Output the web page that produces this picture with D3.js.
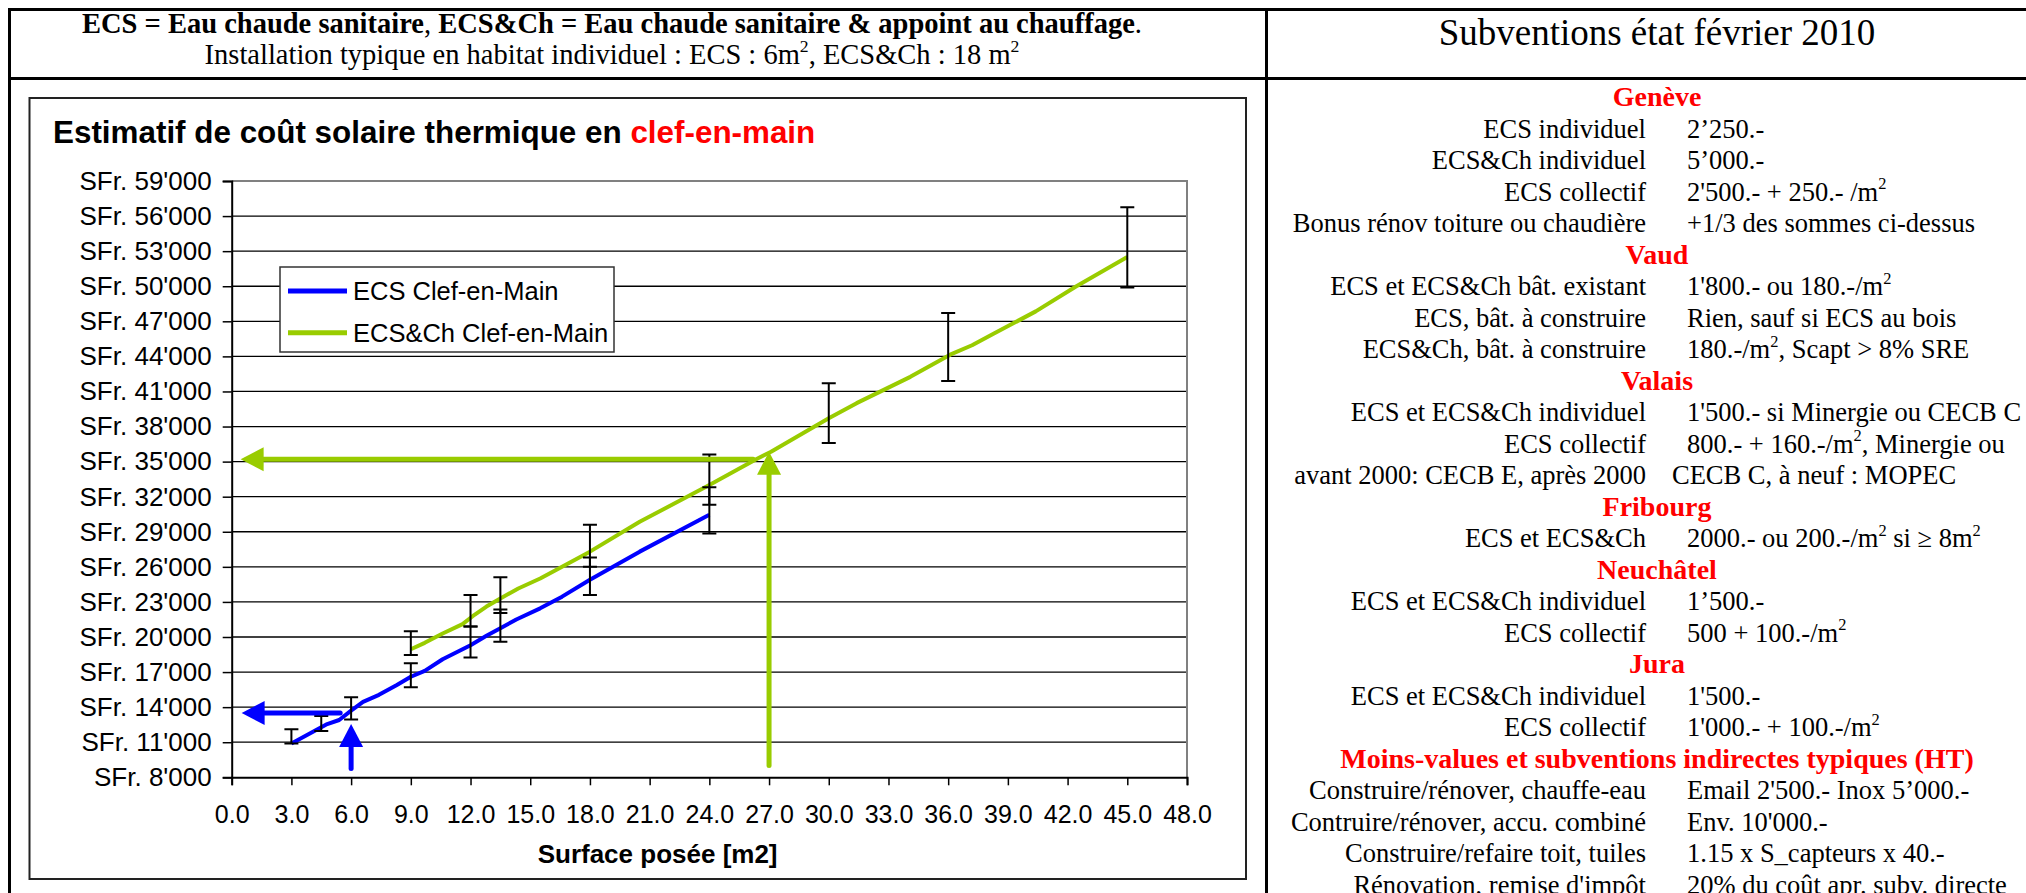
<!DOCTYPE html>
<html>
<head>
<meta charset="utf-8">
<script src="https://cdn.jsdelivr.net/npm/d3@7"></script>
<style>
  body { margin: 0; background: #fff; }
  svg { display: block; }
</style>
</head>
<body>
<svg id="page" width="2026" height="893"></svg>
<script>
// --- chart data ---
const surfaceTicks = d3.range(0, 49, 3);
const costTicks = d3.range(8000, 59001, 3000);

const ecsSurface = [3, 4.8, 5.4, 6, 6.6, 7.4, 8.3, 9, 9.7, 10.6, 12, 12.8, 13.5, 14.3, 15.5, 16.6, 18, 20.5, 24];
const ecsCost = [10900, 12550, 12900, 13700, 14450, 15050, 15900, 16600, 17100, 18100, 19300, 20100, 20750, 21500, 22450, 23450, 24900, 27300, 30450];

const chSurface = [9, 9.7, 10.6, 11.6, 12.2, 12.8, 13.5, 14.4, 15.5, 16.6, 18, 20.5, 24, 26.4, 27.1, 30, 31.4, 34.1, 36.1, 37.2, 38.3, 40.4, 42.4, 45];
const chCost = [18950, 19500, 20300, 21100, 21900, 22600, 23300, 24150, 25000, 26000, 27300, 29850, 33000, 35250, 35850, 38700, 40000, 42250, 44150, 44950, 45950, 47850, 49950, 52500];

const ecsErrSurface = [3, 4.5, 6, 9, 12, 13.5, 18, 24];
const ecsErrLow = [10900, 11950, 12950, 15700, 18250, 19600, 23600, 28850];
const ecsErrHigh = [12100, 13250, 14850, 17750, 20900, 22350, 26800, 32800];

const chErrSurface = [9, 12, 13.5, 18, 24, 30, 36, 45];
const chErrLow = [18450, 20900, 22050, 26000, 31300, 36600, 41900, 49900];
const chErrHigh = [20500, 23600, 25100, 29600, 35600, 41700, 47700, 56750];

// guide arrows: [fromSurface, fromCost, toSurface, toCost]
const ecsArrows = [[5.45, 13500, 0.5, 13500], [6, 8750, 6, 12550]];
const chArrows = [[26.2, 35200, 0.45, 35200], [27, 9000, 27, 35850]];

const seriesNames = ["ECS Clef-en-Main", "ECS&Ch Clef-en-Main"];
const blue = "#0000ff";
const green = "#99cc00";

// --- right hand table (subsidies) ---
const subsidyRows = [
  ["h", "Genève"],
  ["ECS individuel", "2’250.-"],
  ["ECS&Ch individuel", "5’000.-"],
  ["ECS collectif", "2'500.- + 250.- /m^2"],
  ["Bonus rénov toiture ou chaudière", "+1/3 des sommes ci-dessus"],
  ["h", "Vaud"],
  ["ECS et ECS&Ch bât. existant", "1'800.- ou 180.-/m^2"],
  ["ECS, bât. à construire", "Rien, sauf si ECS au bois"],
  ["ECS&Ch, bât. à construire", "180.-/m^2, Scapt > 8% SRE"],
  ["h", "Valais"],
  ["ECS et ECS&Ch individuel", "1'500.- si Minergie ou CECB C"],
  ["ECS collectif", "800.- + 160.-/m^2, Minergie ou"],
  ["avant 2000: CECB E, après 2000", "CECB C, à neuf : MOPEC"],
  ["h", "Fribourg"],
  ["ECS et ECS&Ch", "2000.- ou 200.-/m^2 si ≥ 8m^2"],
  ["h", "Neuchâtel"],
  ["ECS et ECS&Ch individuel", "1’500.-"],
  ["ECS collectif", "500 + 100.-/m^2"],
  ["h", "Jura"],
  ["ECS et ECS&Ch individuel", "1'500.-"],
  ["ECS collectif", "1'000.- + 100.-/m^2"],
  ["h", "Moins-values et subventions indirectes typiques (HT)"],
  ["Construire/rénover, chauffe-eau", "Email 2'500.- Inox 5’000.-"],
  ["Contruire/rénover, accu. combiné", "Env. 10'000.-"],
  ["Construire/refaire toit, tuiles", "1.15 x S_capteurs x 40.-"],
  ["Rénovation, remise d'impôt", "20% du coût apr. subv. directe"]
];

const serif = '"Liberation Serif", "Times New Roman", serif';
const sans = '"Liberation Sans", Arial, sans-serif';

const svg = d3.select("#page");

// text with "^2" superscripts
const rich = (sel, str, size) => {
  const parts = str.split("^2");
  parts.forEach((p, i) => {
    if (i > 0) {
      sel.append("tspan").attr("dy", -size * 0.42).attr("font-size", size * 0.62).text("2");
      if (p) sel.append("tspan").attr("dy", size * 0.42).text(p);
    } else if (p) {
      sel.append("tspan").text(p);
    }
  });
};

// --- page frame ---
const frame = svg.append("g").attr("stroke", "#000").attr("stroke-width", 3);
frame.append("line").attr("x1", 8).attr("x2", 2026).attr("y1", 9.5).attr("y2", 9.5);
frame.append("line").attr("x1", 8).attr("x2", 2026).attr("y1", 78.5).attr("y2", 78.5);
frame.append("line").attr("x1", 9.5).attr("x2", 9.5).attr("y1", 8).attr("y2", 893);
frame.append("line").attr("x1", 1266.5).attr("x2", 1266.5).attr("y1", 8).attr("y2", 893);

// header left
const h1 = svg.append("text").attr("x", 612).attr("y", 33).attr("text-anchor", "middle")
  .attr("font-family", serif).attr("font-size", 28.5);
h1.append("tspan").attr("font-weight", "bold").text("ECS = Eau chaude sanitaire");
h1.append("tspan").text(", ");
h1.append("tspan").attr("font-weight", "bold").text("ECS&Ch = Eau chaude sanitaire & appoint au chauffage");
h1.append("tspan").text(".");

const h2 = svg.append("text").attr("x", 612).attr("y", 64).attr("text-anchor", "middle")
  .attr("font-family", serif).attr("font-size", 28.5);
rich(h2, "Installation typique en habitat individuel : ECS : 6m^2, ECS&Ch : 18 m^2", 28.5);

// header right
svg.append("text").attr("x", 1657).attr("y", 45).attr("text-anchor", "middle")
  .attr("font-family", serif).attr("font-size", 37)
  .text("Subventions état février 2010");

// subsidy rows
const rowsG = svg.append("g").attr("font-family", serif).attr("font-size", 26.5);
subsidyRows.forEach((r, i) => {
  const by = 106 + 31.5 * i;
  if (r[0] === "h") {
    rowsG.append("text").attr("x", 1657).attr("y", by).attr("text-anchor", "middle")
      .attr("font-size", 28).attr("font-weight", "bold").attr("fill", "#ff0000").text(r[1]);
  } else {
    rowsG.append("text").attr("x", 1646).attr("y", by).attr("text-anchor", "end").text(r[0]);
    const t = rowsG.append("text").attr("x", i === 12 ? 1672 : 1687).attr("y", by);
    rich(t, r[1], 26.5);
  }
});

// --- chart box ---
svg.append("rect").attr("x", 29.5).attr("y", 98).attr("width", 1216.5).attr("height", 781)
  .attr("fill", "#fff").attr("stroke", "#222").attr("stroke-width", 2);

const title = svg.append("text").attr("x", 53).attr("y", 143)
  .attr("font-family", sans).attr("font-size", 31.4).attr("font-weight", "bold");
title.append("tspan").text("Estimatif de coût solaire thermique en ");
title.append("tspan").attr("fill", "#ff0000").text("clef-en-main");

const x = d3.scaleLinear().domain([0, 48]).range([231.7, 1187]);
const y = d3.scaleLinear().domain([8000, 59000]).range([777.3, 181]);

const fmt = d3.formatLocale({ decimal: ".", thousands: "'", grouping: [3], currency: ["", ""] }).format(",");

// gridlines
svg.append("g")
  .selectAll("line")
  .data(costTicks.slice(1, -1))
  .join("line")
    .attr("x1", x(0)).attr("x2", x(48))
    .attr("y1", d => y(d)).attr("y2", d => y(d))
    .attr("stroke", "#000").attr("stroke-width", 1.3);

// top / right border of plot
svg.append("path")
  .attr("d", `M${x(0)},${y(59000)}H${x(48)}V${y(8000)}`)
  .attr("fill", "none").attr("stroke", "#808080").attr("stroke-width", 2);

// axes
const yAxis = svg.append("g")
  .attr("transform", `translate(${x(0)},0)`)
  .call(d3.axisLeft(y).tickValues(costTicks).tickSize(9).tickPadding(11)
    .tickFormat(d => "SFr. " + fmt(d)));
const xAxis = svg.append("g")
  .attr("transform", `translate(0,${y(8000)})`)
  .call(d3.axisBottom(x).tickValues(surfaceTicks).tickSize(8).tickFormat(d3.format(".1f")));

[yAxis, xAxis].forEach(g => {
  g.attr("font-size", null).attr("font-family", null);
  g.select(".domain").attr("stroke", "#000").attr("stroke-width", 2);
  g.selectAll(".tick line").attr("stroke", "#000").attr("stroke-width", 1.5);
  g.selectAll("text").attr("font-family", sans).attr("fill", "#000");
});
yAxis.selectAll("text").attr("font-size", 26);
xAxis.selectAll("text").attr("font-size", 25).attr("dy", null).attr("y", 46);

svg.append("text").attr("x", 657.6).attr("y", 863).attr("text-anchor", "middle")
  .attr("font-family", sans).attr("font-size", 26).attr("font-weight", "bold")
  .text("Surface posée [m2]");

// series
const line = d3.line().x(d => x(d[0])).y(d => y(d[1]));
const ecsData = d3.zip(ecsSurface, ecsCost);
const chData = d3.zip(chSurface, chCost);

svg.append("path").datum(chData).attr("d", line)
  .attr("fill", "none").attr("stroke", green).attr("stroke-width", 4).attr("stroke-linejoin", "round");
svg.append("path").datum(ecsData).attr("d", line)
  .attr("fill", "none").attr("stroke", blue).attr("stroke-width", 4).attr("stroke-linejoin", "round");

// error bars
const errData = d3.zip(ecsErrSurface, ecsErrLow, ecsErrHigh)
  .concat(d3.zip(chErrSurface, chErrLow, chErrHigh));
const errG = svg.append("g").attr("stroke", "#000").attr("stroke-width", 2).attr("fill", "none");
errG.selectAll("path")
  .data(errData)
  .join("path")
    .attr("d", d => {
      const cx = x(d[0]), lo = y(d[1]), hi = y(d[2]);
      return `M${cx},${lo}V${hi}M${cx - 7},${lo}H${cx + 7}M${cx - 7},${hi}H${cx + 7}`;
    });

// guide arrows
const drawArrow = (a, color) => {
  const x1 = x(a[0]), y1 = y(a[1]), x2 = x(a[2]), y2 = y(a[3]);
  const len = Math.hypot(x2 - x1, y2 - y1);
  const ux = (x2 - x1) / len, uy = (y2 - y1) / len;
  const hl = 23, hw = 12;
  const bx = x2 - ux * hl, by = y2 - uy * hl;
  svg.append("line").attr("x1", x1).attr("y1", y1).attr("x2", bx).attr("y2", by)
    .attr("stroke", color).attr("stroke-width", 5).attr("stroke-linecap", "round");
  svg.append("path")
    .attr("d", `M${x2},${y2}L${bx - uy * hw},${by + ux * hw}L${bx + uy * hw},${by - ux * hw}Z`)
    .attr("fill", color);
};
chArrows.forEach(a => drawArrow(a, green));
ecsArrows.forEach(a => drawArrow(a, blue));

// legend
const legend = svg.append("g").attr("transform", "translate(280,267)");
legend.append("rect").attr("width", 334).attr("height", 85)
  .attr("fill", "#fff").attr("stroke", "#333").attr("stroke-width", 1.5);
seriesNames.forEach((name, i) => {
  const ly = 24 + i * 41.7;
  legend.append("line").attr("x1", 8).attr("x2", 67).attr("y1", ly).attr("y2", ly)
    .attr("stroke", i === 0 ? blue : green).attr("stroke-width", 5);
  legend.append("text").attr("x", 73).attr("y", ly + 9)
    .attr("font-family", sans).attr("font-size", 25.5).text(name);
});
</script>
</body>
</html>
